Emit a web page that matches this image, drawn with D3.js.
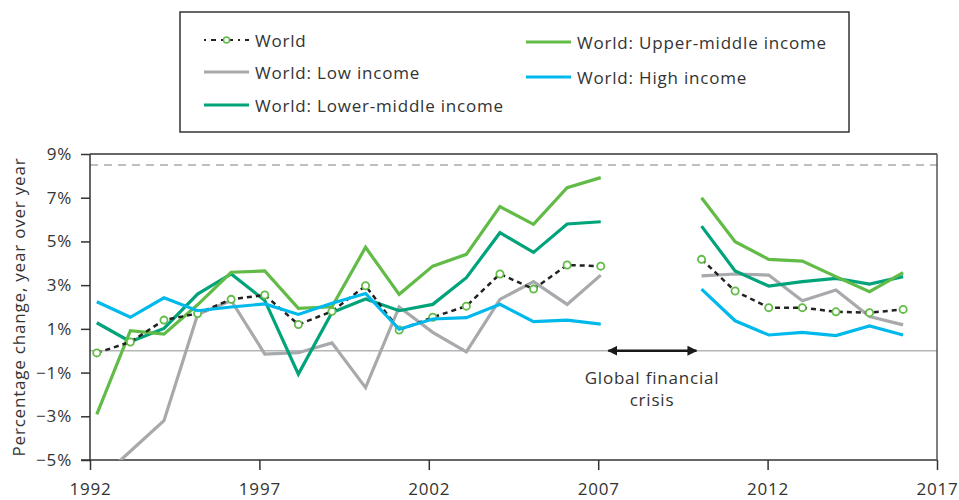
<!DOCTYPE html>
<html>
<head>
    <meta charset="utf-8">
    <title>Percentage change by income group</title>
    <script src="https://cdnjs.cloudflare.com/ajax/libs/d3/7.8.5/d3.min.js"></script>
    <style>
        body {
            background: #ffffff;
            margin: 0;
            overflow: hidden;
        }
        svg text {
            font-family: "Open Sans", sans-serif;
            fill: #333;
            letter-spacing: 0.8px;
        }
        .axis path, .axis line {
            stroke: #333;
            stroke-width: 1.5px;
        }
        .axis text {
            font-size: 17px;
        }
    </style>
</head>
<body>
    <svg id="chart"></svg>

    <script>
        // values, 2008 and 2009 left empty
        const years = d3.range(1992, 2017);
        const world       = [-0.1, 0.4, 1.4, 1.7, 2.35, 2.55, 1.2, 1.8, 2.97, 0.95, 1.53, 2.04, 3.51, 2.82, 3.92, 3.87, null, null, 4.18, 2.73, 1.97, 1.97, 1.78, 1.74, 1.89];
        const lowIncome   = [-6.0, -4.6, -3.2, 1.65, 2.3, -0.15, -0.09, 0.36, -1.69, 2.0, 0.84, -0.05, 2.35, 3.16, 2.12, 3.46, null, null, 3.42, 3.51, 3.46, 2.29, 2.78, 1.56, 1.18];
        const lowerMiddle = [1.28, 0.41, 1.02, 2.59, 3.51, 2.3, -1.07, 1.75, 2.37, 1.83, 2.12, 3.34, 5.40, 4.50, 5.80, 5.90, null, null, 5.70, 3.65, 2.96, 3.16, 3.31, 3.05, 3.39];
        const upperMiddle = [-2.91, 0.92, 0.76, 2.1, 3.59, 3.65, 1.94, 2.01, 4.73, 2.58, 3.87, 4.41, 6.59, 5.78, 7.46, 7.92, null, null, 7.0, 4.99, 4.18, 4.10, 3.39, 2.70, 3.57];
        const highIncome  = [2.24, 1.53, 2.42, 1.83, 2.0, 2.14, 1.66, 2.17, 2.62, 0.98, 1.45, 1.51, 2.12, 1.33, 1.40, 1.22, null, null, 2.82, 1.37, 0.72, 0.84, 0.69, 1.13, 0.72];

        const xTicks = [1992, 1997, 2002, 2007, 2012, 2017];
        const yTicks = [-5, -3, -1, 1, 3, 5, 7, 9];
        const refLine = 8.5;
        const crisisSpan = [2007.3, 2009.9];

        const width = 959, height = 500;
        const svg = d3.select("#chart").attr("width", width).attr("height", height);

        const x = d3.scaleLinear().domain([1992, 2017]).range([90, 937]);
        // points sit a little right of the year ticks in the original
        const xd = d3.scaleLinear().domain([1992, 2016]).range([x(1992.2), x(2016)]);
        const y = d3.scaleLinear().domain([-5, 9]).range([460, 154]);

        svg.append("clipPath").attr("id", "plot")
            .append("rect")
            .attr("x", x(1992)).attr("y", y(9))
            .attr("width", x(2017) - x(1992)).attr("height", y(-5) - y(9));

        // reference and zero lines
        svg.append("line")
            .attr("x1", x(1992)).attr("x2", x(2017))
            .attr("y1", y(refLine)).attr("y2", y(refLine))
            .attr("stroke", "#aaa").attr("stroke-width", 1.5)
            .attr("stroke-dasharray", "8,6");
        svg.append("line")
            .attr("x1", x(1992)).attr("x2", x(2017))
            .attr("y1", y(0)).attr("y2", y(0))
            .attr("stroke", "#b5b5b5").attr("stroke-width", 1.5);

        // axes
        svg.append("g")
            .attr("class", "axis")
            .attr("transform", `translate(${x(1992)},0)`)
            .call(d3.axisLeft(y).tickValues(yTicks).tickSize(9).tickPadding(9)
                .tickFormat(d => d3.format("d")(d) + "%"))
            .call(g => g.select(".domain").remove());
        svg.append("g")
            .attr("class", "axis")
            .attr("transform", `translate(0,${y(-5)})`)
            .call(d3.axisBottom(x).tickValues(xTicks).tickSize(10).tickPadding(13).tickFormat(d3.format("d")))
            .call(g => g.select(".domain").remove());

        const frame = svg.append("g").attr("stroke", "#333").attr("stroke-width", 1.5);
        frame.append("line").attr("x1", x(1992)).attr("x2", x(1992)).attr("y1", y(9)).attr("y2", y(-5));
        frame.append("line").attr("x1", x(1992) - 9).attr("x2", x(2017)).attr("y1", y(-5)).attr("y2", y(-5));
        frame.append("line").attr("x1", x(1992)).attr("x2", x(2017)).attr("y1", y(9)).attr("y2", y(9));
        frame.append("line").attr("x1", x(2017)).attr("x2", x(2017)).attr("y1", y(9)).attr("y2", y(-5))
            .attr("stroke", "#555");

        svg.append("text")
            .attr("transform", `translate(18,${(y(9) + y(-5)) / 2}) rotate(-90)`)
            .attr("text-anchor", "middle")
            .attr("dominant-baseline", "central")
            .style("font-size", "17px")
            .text("Percentage change, year over year");

        // series
        const series = [
            {name: "World: Low income", values: lowIncome, color: "#a7a9ac"},
            {name: "World: Lower-middle income", values: lowerMiddle, color: "#00a37a"},
            {name: "World: Upper-middle income", values: upperMiddle, color: "#62bb46"},
            {name: "World", values: world, color: "#222", dash: "5,4"},
            {name: "World: High income", values: highIncome, color: "#00b9ec"}
        ];

        const line = d3.line()
            .defined(d => d.v !== null)
            .x(d => xd(d.year))
            .y(d => y(d.v));

        const plot = svg.append("g").attr("clip-path", "url(#plot)");
        series.forEach(s => {
            const pts = years.map((yr, i) => ({year: yr, v: s.values[i]}));
            plot.append("path")
                .datum(pts)
                .attr("fill", "none")
                .attr("stroke", s.color)
                .attr("stroke-width", s.dash ? 2.5 : 3.2)
                .attr("stroke-dasharray", s.dash || null)
                .attr("stroke-linejoin", "miter")
                .attr("d", line);
            if (s.name === "World") {
                plot.selectAll(".dot")
                    .data(pts.filter(d => d.v !== null))
                    .enter().append("circle")
                    .attr("class", "dot")
                    .attr("cx", d => xd(d.year))
                    .attr("cy", d => y(d.v))
                    .attr("r", 3.6)
                    .attr("fill", "#fff")
                    .attr("stroke", "#62bb46")
                    .attr("stroke-width", 1.8);
            }
        });

        // crisis annotation
        const defs = svg.append("defs");
        defs.append("marker")
            .attr("id", "arrow")
            .attr("viewBox", "0 0 10 10")
            .attr("refX", 9).attr("refY", 5)
            .attr("markerWidth", 4).attr("markerHeight", 4)
            .attr("orient", "auto-start-reverse")
            .append("path")
            .attr("d", "M0,0L10,5L0,10z")
            .attr("fill", "#1a1a1a");
        svg.append("line")
            .attr("x1", x(crisisSpan[0])).attr("x2", x(crisisSpan[1]))
            .attr("y1", y(0)).attr("y2", y(0))
            .attr("stroke", "#1a1a1a").attr("stroke-width", 2.5)
            .attr("marker-start", "url(#arrow)")
            .attr("marker-end", "url(#arrow)");
        const note = svg.append("text")
            .attr("text-anchor", "middle")
            .style("font-size", "17px");
        note.append("tspan").attr("x", 652).attr("y", 384).text("Global financial");
        note.append("tspan").attr("x", 652).attr("y", 406).text("crisis");

        // legend
        svg.append("rect")
            .attr("x", 180).attr("y", 12).attr("width", 669).attr("height", 120)
            .attr("fill", "none").attr("stroke", "#333").attr("stroke-width", 1.5);

        const legendItems = [
            {name: "World", color: "#222", world: true, lx: 204, ly: 40},
            {name: "World: Low income", color: "#a7a9ac", lx: 204, ly: 72},
            {name: "World: Lower-middle income", color: "#00a37a", lx: 204, ly: 105},
            {name: "World: Upper-middle income", color: "#62bb46", lx: 526, ly: 42},
            {name: "World: High income", color: "#00b9ec", lx: 526, ly: 77}
        ];
        const lg = svg.append("g").selectAll("g")
            .data(legendItems)
            .enter().append("g")
            .attr("transform", d => `translate(${d.lx},${d.ly})`);
        lg.append("line")
            .attr("x1", 0).attr("x2", 45).attr("y1", 0).attr("y2", 0)
            .attr("stroke", d => d.color)
            .attr("stroke-width", d => d.world ? 2 : 3.2)
            .attr("stroke-dasharray", d => d.world ? "2,5,5,5" : null);
        lg.filter(d => d.world).append("circle")
            .attr("cx", 22.5).attr("cy", 0).attr("r", 3)
            .attr("fill", "#fff").attr("stroke", "#62bb46").attr("stroke-width", 1.6);
        lg.append("text")
            .attr("x", 51).attr("y", 0)
            .attr("dominant-baseline", "central")
            .style("font-size", "17px")
            .text(d => d.name);
    </script>
</body>
</html>
